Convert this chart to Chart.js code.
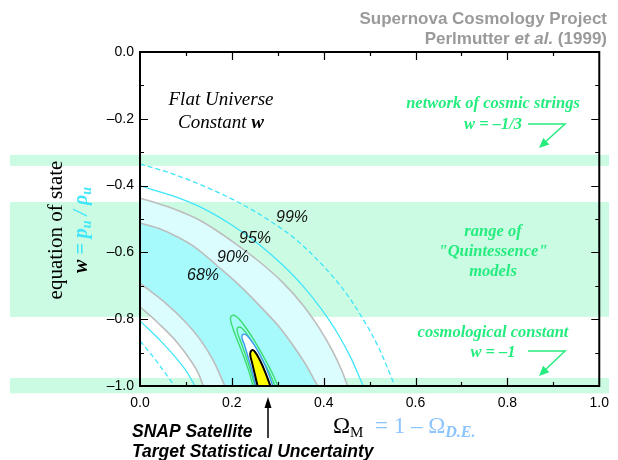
<!DOCTYPE html>
<html>
<head>
<meta charset="utf-8">
<script src="https://cdn.jsdelivr.net/npm/chart.js@4.4.1/dist/chart.umd.min.js"></script>
<style>
html,body{margin:0;padding:0;background:#fff}
#wrap{width:618px;height:460px}
</style>
</head>
<body>
<div id="wrap"><canvas id="cv" width="618" height="460"></canvas></div>
<script>
// confidence contours, [Omega_M, w]
const c99Outer = [[0,-0.335],[0.065,-0.362],[0.133,-0.398],[0.210,-0.447],[0.280,-0.503],[0.340,-0.562],[0.402,-0.645],[0.447,-0.719],[0.484,-0.796],[0.520,-0.886],[0.555,-1.0]];
const c95Outer = [[0,-0.401],[0.070,-0.430],[0.133,-0.465],[0.200,-0.518],[0.260,-0.577],[0.310,-0.637],[0.355,-0.701],[0.395,-0.770],[0.430,-0.842],[0.460,-0.918],[0.486,-1.0]];
const c90Outer = [[0,-0.437],[0.070,-0.468],[0.133,-0.506],[0.200,-0.566],[0.260,-0.628],[0.310,-0.689],[0.355,-0.758],[0.390,-0.826],[0.420,-0.897],[0.440,-0.956],[0.452,-1.0]];
const c68Outer = [[0,-0.512],[0.040,-0.528],[0.082,-0.554],[0.120,-0.585],[0.168,-0.640],[0.220,-0.703],[0.269,-0.772],[0.305,-0.826],[0.333,-0.878],[0.360,-0.934],[0.387,-1.0]];
// inner edges run on below the frame so the shaded bands close under the axis
const c68Inner = [[0,-0.692],[0.060,-0.757],[0.100,-0.810],[0.133,-0.865],[0.160,-0.925],[0.185,-1.0],[0.390,-1.55]];
const c90Inner = [[0,-0.763],[0.040,-0.812],[0.080,-0.868],[0.114,-0.931],[0.127,-0.962],[0.138,-1.0],[0.460,-1.95]];
const c95Inner = [[0,-0.805],[0.049,-0.871],[0.099,-0.952],[0.120,-1.0]];
const c99Inner = [[0,-0.865],[0.034,-0.922],[0.075,-1.0]];

// SNAP target contours (closed at the w = -1 edge)
const snapGreen1 = [[0.246,-1.0],[0.238,-0.960],[0.227,-0.916],[0.214,-0.870],[0.203,-0.830],[0.197,-0.800],[0.200,-0.789],[0.210,-0.792],[0.225,-0.815],[0.245,-0.855],[0.262,-0.895],[0.278,-0.935],[0.291,-0.970],[0.300,-1.0]];
const snapGreen2 = [[0.250,-1.0],[0.242,-0.960],[0.232,-0.916],[0.220,-0.870],[0.212,-0.838],[0.213,-0.825],[0.222,-0.827],[0.238,-0.855],[0.256,-0.895],[0.272,-0.935],[0.285,-0.970],[0.294,-1.0]];
const snapBlue = [[0.252,-1.0],[0.245,-0.960],[0.236,-0.916],[0.227,-0.875],[0.222,-0.855],[0.225,-0.845],[0.234,-0.850],[0.250,-0.880],[0.266,-0.920],[0.279,-0.960],[0.289,-1.0]];
const snapCore = [[0.256,-1.0],[0.250,-0.965],[0.244,-0.930],[0.240,-0.905],[0.243,-0.893],[0.250,-0.897],[0.262,-0.925],[0.273,-0.960],[0.284,-1.0]];

// shaded w ranges: cosmic strings, quintessence, cosmological constant
const bandTop    = [-0.308, -0.449, -0.976];
const bandBottom = [-0.341, -0.793, -1.022];

const contourLabels = ['99%','95%','90%','68%'];

const SANS  = '"Liberation Sans", Arial, sans-serif';
const SERIF = '"Liberation Serif", "DejaVu Serif", serif';
const GREEN_TXT = '#25ec7e';
const BAND = '#ccfbe3';
const CYAN = '#3fe6fa';
const GRAY = '#bdbdbd';
const SKY  = '#8cc4ff';

const pts = a => a.map(([x,y])=>({x,y}));

function runs(ctx, parts, x, y, align){
  let w = 0;
  parts.forEach(p=>{ ctx.font = p.f; w += ctx.measureText(p.t).width; });
  let cx = align==='center' ? x - w/2 : align==='right' ? x - w : x;
  parts.forEach(p=>{
    ctx.font = p.f; ctx.fillStyle = p.c;
    ctx.fillText(p.t, cx, y + (p.dy||0));
    cx += ctx.measureText(p.t).width;
  });
}

function arrow(ctx, x0, y0, x1, y1, len, half){
  const a = Math.atan2(y1-y0, x1-x0);
  ctx.beginPath();
  ctx.moveTo(x1, y1);
  ctx.lineTo(x1 - len*Math.cos(a) + half*Math.sin(a), y1 - len*Math.sin(a) - half*Math.cos(a));
  ctx.lineTo(x1 - len*Math.cos(a) - half*Math.sin(a), y1 - len*Math.sin(a) + half*Math.cos(a));
  ctx.closePath(); ctx.fill();
}

const frame = {
  id: 'frame',
  beforeDraw(chart){
    const ctx = chart.ctx, ys = chart.scales.y;
    ctx.save();
    ctx.fillStyle = BAND;
    bandTop.forEach((t,i)=>{
      const y0 = ys.getPixelForValue(t), y1 = ys.getPixelForValue(bandBottom[i]);
      ctx.fillRect(10, y0, 599, y1 - y0);
    });
    ctx.restore();
  },
  afterDraw(chart){
    const ctx = chart.ctx, a = chart.chartArea;
    const xs = chart.scales.x, ys = chart.scales.y;
    ctx.save();
    // inward ticks on all four sides
    ctx.strokeStyle = '#000'; ctx.lineWidth = 1.2;
    ctx.beginPath();
    xs.ticks.forEach(t=>{
      const px = Math.round(xs.getPixelForValue(t.value)) + 0.5;
      if(px < a.left + 2 || px > a.right - 2) return;
      const L = Math.round(t.value*10) % 2 === 0 ? 8 : 4;
      ctx.moveTo(px, a.bottom); ctx.lineTo(px, a.bottom - L);
      ctx.moveTo(px, a.top); ctx.lineTo(px, a.top + L);
    });
    ys.ticks.forEach(t=>{
      const py = Math.round(ys.getPixelForValue(t.value)) + 0.5;
      if(py < a.top + 2 || py > a.bottom - 2) return;
      const L = Math.round(Math.abs(t.value)*10) % 2 === 0 ? 8 : 4;
      ctx.moveTo(a.left, py); ctx.lineTo(a.left + L, py);
      ctx.moveTo(a.right, py); ctx.lineTo(a.right - L, py);
    });
    ctx.stroke();
    ctx.lineWidth = 2;
    ctx.strokeRect(a.left, a.top, a.right - a.left, a.bottom - a.top);

    ctx.textBaseline = 'alphabetic'; ctx.textAlign = 'left';

    // credit
    runs(ctx, [{t:'Supernova Cosmology Project', f:'bold 17px '+SANS, c:'#9a9a9a'}], 607, 24, 'right');
    runs(ctx, [
      {t:'Perlmutter ', f:'bold 17px '+SANS, c:'#9a9a9a'},
      {t:'et al.', f:'italic bold 17px '+SANS, c:'#9a9a9a'},
      {t:' (1999)', f:'bold 17px '+SANS, c:'#9a9a9a'}], 607, 44, 'right');

    runs(ctx, [{t:'Flat Universe', f:'italic 19px '+SERIF, c:'#000'}], 221, 105, 'center');
    runs(ctx, [{t:'Constant ', f:'italic 19px '+SERIF, c:'#000'},
               {t:'w', f:'italic bold 19px '+SERIF, c:'#000'}], 221, 128, 'center');

    // green annotations
    const gf = 'italic bold 16.5px '+SERIF;
    runs(ctx, [{t:'network of cosmic strings', f:gf, c:GREEN_TXT}], 493, 108, 'center');
    runs(ctx, [{t:'w = \u20131/3', f:gf, c:GREEN_TXT}], 493, 129, 'center');
    runs(ctx, [{t:'range of', f:gf, c:GREEN_TXT}], 493, 236, 'center');
    runs(ctx, [{t:'"Quintessence"', f:gf, c:GREEN_TXT}], 493, 256, 'center');
    runs(ctx, [{t:'models', f:gf, c:GREEN_TXT}], 493, 276, 'center');
    runs(ctx, [{t:'cosmological constant', f:gf, c:GREEN_TXT}], 493, 337, 'center');
    runs(ctx, [{t:'w = \u20131', f:gf, c:GREEN_TXT}], 493, 357, 'center');

    ctx.strokeStyle = GREEN_TXT; ctx.fillStyle = GREEN_TXT; ctx.lineWidth = 1.5;
    [[124,148],[351,376]].forEach(([yh, ytip])=>{
      ctx.beginPath();
      ctx.moveTo(528, yh); ctx.lineTo(565, yh); ctx.lineTo(543, ytip - 4);
      ctx.stroke();
      arrow(ctx, 565, yh, 539, ytip, 10, 4.5);
    });

    // contour level labels
    const lp = [[292,222],[255,243],[233,262],[203,280]];
    contourLabels.forEach((s,i)=>runs(ctx, [{t:s, f:'italic 16px '+SANS, c:'#111'}], lp[i][0], lp[i][1], 'center'));

    // y title
    ctx.save();
    ctx.rotate(-Math.PI/2);
    runs(ctx, [{t:'equation of state', f:'21px '+SERIF, c:'#000'}], -230, 62, 'center');
    runs(ctx, [
      {t:'w', f:'italic bold 20px '+SERIF, c:'#000'},
      {t:' = p', f:'italic bold 20px '+SERIF, c:CYAN},
      {t:'u', f:'italic bold 14px '+SERIF, c:CYAN, dy:4},
      {t:' / \u03c1', f:'italic bold 20px '+SERIF, c:CYAN},
      {t:'u', f:'italic bold 14px '+SERIF, c:CYAN, dy:4}], -230, 87, 'center');
    ctx.restore();

    // x title
    runs(ctx, [
      {t:'\u03a9', f:'23px '+SERIF, c:'#000'},
      {t:'M', f:'15px '+SERIF, c:'#000', dy:4},
      {t:'  = 1 \u2013 \u03a9', f:'23px '+SERIF, c:SKY},
      {t:'D.E.', f:'italic bold 16px '+SERIF, c:SKY, dy:4}], 333, 433, 'left');

    // SNAP note and arrow
    runs(ctx, [{t:'SNAP Satellite', f:'italic bold 17.5px '+SANS, c:'#000'}], 132, 437, 'left');
    runs(ctx, [{t:'Target Statistical Uncertainty', f:'italic bold 17.5px '+SANS, c:'#000'}], 132, 457, 'left');
    ctx.strokeStyle = '#000'; ctx.fillStyle = '#000'; ctx.lineWidth = 1.5;
    ctx.beginPath(); ctx.moveTo(268, 438); ctx.lineTo(268, 405); ctx.stroke();
    arrow(ctx, 268, 438, 268, 397, 11, 3.5);
    ctx.restore();
  }
};

function curve(data, color, opts){
  return Object.assign({data: pts(data), borderColor: color, borderWidth: 1.3,
    pointRadius: 0, fill: false, cubicInterpolationMode: 'monotone'}, opts||{});
}
function loop(data, color, opts){
  return Object.assign({data: pts(data), borderColor: color, borderWidth: 1.4,
    pointRadius: 0, fill: false, tension: 0.4}, opts||{});
}

const datasets = [
  curve(c90Outer, GRAY, {fill: '+1', backgroundColor: '#dcfdfd', borderWidth: 1.6}),
  curve(c90Inner, GRAY, {borderWidth: 1.6}),
  curve(c68Outer, GRAY, {fill: '+1', backgroundColor: '#a6fafb', borderWidth: 1.6}),
  curve(c68Inner, GRAY, {borderWidth: 1.6}),
  curve(c95Outer, CYAN),
  curve(c95Inner, CYAN),
  curve(c99Outer, CYAN, {borderDash: [5,3]}),
  curve(c99Inner, CYAN, {borderDash: [5,3]}),
  loop(snapGreen1, '#3ddc6e'),
  loop(snapGreen2, '#3ddc6e'),
  loop(snapBlue, '#3c9cf0', {fill: 'shape', backgroundColor: '#ffffff'}),
  loop(snapCore, '#000000', {fill: 'shape', backgroundColor: '#ffff00', borderWidth: 2})
];
datasets.forEach((d,i)=>{ d.order = datasets.length - i; });

new Chart(document.getElementById('cv'), {
  type: 'line',
  data: {datasets},
  options: {
    responsive: false,
    animation: false,
    events: [],
    layout: {padding: {left: 0, top: 52, right: 12, bottom: 0}},
    plugins: {legend: {display: false}, tooltip: {enabled: false}},
    scales: {
      x: {type: 'linear', min: 0, max: 1,
        afterFit: s => { s.height = 74; },
        border: {display: false},
        grid: {display: false, drawTicks: false},
        ticks: {stepSize: 0.1, autoSkip: false, maxRotation: 0, padding: 9,
          color: '#000', font: {family: SANS, size: 14},
          callback: v => Math.round(v*10) % 2 === 0 ? v.toFixed(1) : ''}},
      y: {type: 'linear', min: -1, max: 0,
        afterFit: s => { s.width = 140; },
        border: {display: false},
        grid: {display: false, drawTicks: false},
        ticks: {stepSize: 0.1, autoSkip: false, padding: 6,
          color: '#000', font: {family: SANS, size: 14},
          callback: v => Math.round(Math.abs(v)*10) % 2 === 0
            ? (Math.abs(v) < 1e-9 ? '0.0' : '\u2013' + Math.abs(v).toFixed(1)) : ''}}
    }
  },
  plugins: [frame]
});
</script>
</body>
</html>
